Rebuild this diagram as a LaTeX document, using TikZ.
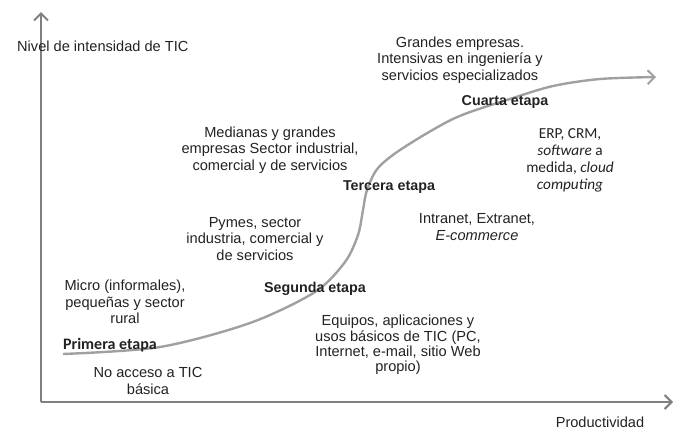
\documentclass[tikz,border=0pt]{standalone}
\usepackage{fontspec}
\setmainfont{Liberation Sans}
\newfontfamily\calfont{Carlito}
\usetikzlibrary{arrows.meta}
\definecolor{txt}{RGB}{34,34,34}
\definecolor{axisgray}{RGB}{128,128,128}
\definecolor{curvegray}{RGB}{160,160,160}
\tikzset{
  lbl/.style={inner sep=0pt, align=center, text=txt, font=\fontsize{14.6}{16.4}\selectfont},
  stage/.style={inner sep=0pt, text=txt, font=\fontsize{14.3}{16.4}\selectfont\bfseries},
  calstage/.style={inner sep=0pt, text=txt, font=\fontsize{16}{16.4}\selectfont\calfont\bfseries},
  callbl/.style={inner sep=0pt, align=center, text=txt, font=\fontsize{15.3}{17}\selectfont\calfont},
  axisline/.style={draw=axisgray, line width=2.4pt, -{Straight Barb[length=7pt,width=14pt,line width=2pt]}},
  curveline/.style={draw=curvegray, line width=2.4pt, -{Straight Barb[length=7pt,width=14pt,line width=2pt]}}
}
\begin{document}
\begin{tikzpicture}[x=1pt,y=-1pt]
\useasboundingbox (0,0) rectangle (686,434);
\coordinate (O) at (41,402);
\coordinate (ytop) at (41,12);
\coordinate (xend) at (673,402);
\draw[axisline] (O) -- (ytop);
\draw[axisline] (O) -- (xend);
\draw[curveline] plot[smooth, tension=0.5] coordinates {(63,354) (160,347) (250,323) (315,292) (345,262) (358,235) (363,210) (367,190) (378,168) (403,148) (455,118) (510,99) (553,86) (600,79) (656,77)};
\node[lbl, anchor=west] (ylab) at (17,46) {Nivel de intensidad de TIC};
\node[lbl] (xlab) at (600,422) {Productividad};
\node[lbl] (grandes) at (460,60) {Grandes empresas.\\Intensivas en ingeniería y\\servicios especializados};
\node[stage] (cuarta) at (505,102) {Cuarta etapa};
\node[callbl] (erp) at (570,160) {ERP, CRM,\\\textit{software} a\\medida, \textit{cloud}\\\textit{computing}};
\node[stage] (tercera) at (389,187) {Tercera etapa};
\node[lbl] (medianas) at (270,150) {Medianas y grandes\\empresas Sector industrial,\\comercial y de servicios};
\node[lbl] (pymes) at (255,239) {Pymes, sector\\industria, comercial y\\de servicios};
\node[lbl] (intranet) at (477,227) {Intranet, Extranet,\\\textit{E-commerce}};
\node[lbl] (micro) at (125,302) {Micro (informales),\\pequeñas y sector\\rural};
\node[calstage] (primera) at (110,345) {Primera etapa};
\node[stage] (segunda) at (315,289) {Segunda etapa};
\node[lbl, font=\fontsize{14.6}{15.3}\selectfont] (equipos) at (398,345) {Equipos, aplicaciones y\\usos básicos de TIC (PC,\\Internet, e-mail, sitio Web\\propio)};
\node[lbl] (noacceso) at (148,381) {No acceso a TIC\\básica};
\end{tikzpicture}
\end{document}
